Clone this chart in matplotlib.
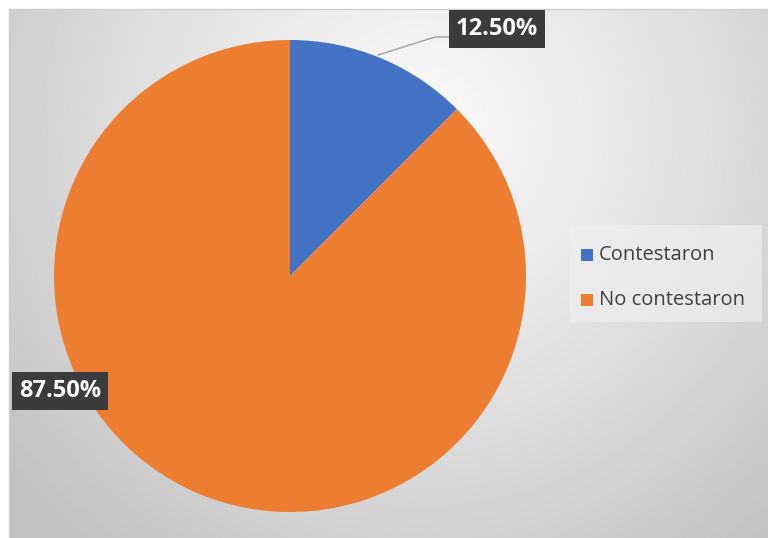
import numpy as np
import matplotlib
matplotlib.use('Agg')
import matplotlib.pyplot as plt
from matplotlib.patches import Rectangle

# data
labels = ['Contestaron', 'No contestaron']
values = [12.5, 87.5]
colors = ['#4472C4', '#ED7D31']

W, H = 768, 538
fig = plt.figure(figsize=(W / 100, H / 100), dpi=100)
fig.patch.set_facecolor('white')
ax = fig.add_axes([0, 0, 1, 1])
ax.set_axis_off()

# gray radial background of the chart area
x0, y0 = 9, 0
xs = np.linspace(x0, W, 400)
ys = np.linspace(y0, H - 9, 300)
gx, gy = np.meshgrid(xs, ys)
d = np.sqrt((gx - 420) ** 2 + ((H - gy) - 130) ** 2)
shade = 0.975 - 0.22 * np.clip(d / 540, 0, 1) ** 1.2
ax.imshow(shade, cmap='gray', vmin=0, vmax=1, origin='lower',
          extent=[x0, W, y0, H - 9], zorder=0, aspect='auto')
ax.plot([x0, W], [H - 9, H - 9], color='#d0d0d0', lw=1, zorder=1)
ax.plot([x0, x0], [0, H - 9], color='#d0d0d0', lw=1, zorder=1)

# pie, center and radius in pixel units
cx, cy, r = 290, H - 276, 236
wedges, _ = ax.pie(values, colors=colors, startangle=90, counterclock=False,
                   center=(cx, cy), radius=r, frame=True,
                   wedgeprops=dict(linewidth=0))
for w in wedges:
    w.set_zorder(2)

ax.set_xlim(0, W)
ax.set_ylim(0, H)
ax.set_aspect('auto')
ax.set_axis_off()

# data labels
def label(x, y, txt):
    ax.text(x, y, txt, ha='center', va='center', color='white', fontsize=17,
            fontweight='bold', family='Open Sans', zorder=5,
            bbox=dict(boxstyle='square,pad=0.28', fc='#3b3b3b', ec='none'))

lab1 = '{:.2f}%'.format(values[0])
lab2 = '{:.2f}%'.format(values[1])
ax.plot([378, 435, 449], [H - 55, H - 37, H - 37], color='#a0a0a0', lw=1, zorder=3)
label(497, H - 29, lab1)
label(60, H - 391, lab2)

# legend
ax.add_patch(Rectangle((570, H - 322), 192, 97, fc='#eeeeee', ec='none', alpha=0.7, zorder=3))
for i, (lab, c) in enumerate(zip(labels, colors)):
    yy = H - 255 - i * 45
    ax.add_patch(Rectangle((581, yy - 6), 12, 12, fc=c, ec='none', zorder=4))
    ax.text(599, yy, lab, ha='left', va='center', fontsize=14.5, color='#404040',
            family='Open Sans', zorder=4)

fig.savefig('out.png', dpi=100)
